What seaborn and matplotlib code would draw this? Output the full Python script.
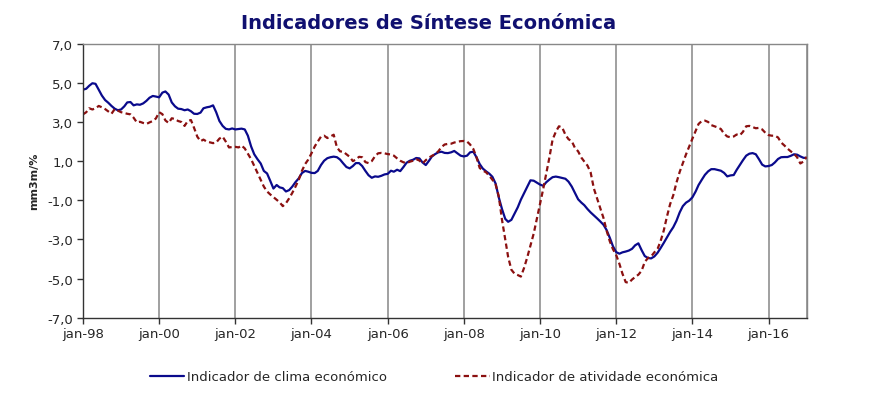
import numpy as np
import pandas as pd
import matplotlib
matplotlib.use("Agg")
import matplotlib.pyplot as plt
import matplotlib.dates as mdates
import seaborn as sns

# ---- data (monthly, Jan 1998 .. Jan 2017) ----
start_month = "1998-01-01"
clima = [
    4.65, 4.70, 4.85, 4.98, 4.95, 4.65, 4.35, 4.12, 3.98, 3.82,
    3.68, 3.60, 3.64, 3.80, 4.00, 4.02, 3.85, 3.90, 3.88, 3.95,
    4.08, 4.24, 4.33, 4.30, 4.26, 4.50, 4.56, 4.40, 4.00, 3.80,
    3.68, 3.66, 3.60, 3.64, 3.55, 3.42, 3.41, 3.48, 3.70, 3.75,
    3.78, 3.85, 3.50, 3.05, 2.80, 2.65, 2.62, 2.67, 2.62, 2.64,
    2.66, 2.62, 2.30, 1.75, 1.35, 1.10, 0.88, 0.50, 0.37, 0.00,
    -0.40, -0.22, -0.34, -0.38, -0.55, -0.48, -0.30, -0.07, 0.12, 0.39,
    0.50, 0.46, 0.40, 0.39, 0.50, 0.80, 1.02, 1.15, 1.20, 1.23,
    1.20, 1.08, 0.88, 0.70, 0.63, 0.75, 0.90, 0.90, 0.75, 0.50,
    0.28, 0.15, 0.22, 0.20, 0.25, 0.32, 0.35, 0.51, 0.46, 0.56,
    0.49, 0.70, 0.92, 1.02, 1.07, 1.16, 1.14, 0.93, 0.80, 1.02,
    1.24, 1.36, 1.45, 1.48, 1.42, 1.41, 1.45, 1.52, 1.40, 1.28,
    1.24, 1.28, 1.45, 1.48, 1.20, 0.85, 0.62, 0.48, 0.36, 0.20,
    -0.15, -0.85, -1.45, -1.95, -2.10, -2.00, -1.68, -1.36, -0.97, -0.63,
    -0.30, 0.02, 0.00, -0.10, -0.20, -0.26, -0.08, 0.06, 0.18, 0.21,
    0.18, 0.14, 0.10, -0.05, -0.30, -0.62, -0.95, -1.12, -1.25, -1.45,
    -1.62, -1.77, -1.92, -2.08, -2.25, -2.52, -2.92, -3.35, -3.65, -3.73,
    -3.66, -3.62, -3.57, -3.48, -3.30, -3.20, -3.55, -3.85, -3.95, -3.97,
    -3.87, -3.68, -3.45, -3.18, -2.90, -2.62, -2.38, -2.05, -1.62, -1.30,
    -1.12, -1.02, -0.85, -0.55, -0.22, 0.05, 0.30, 0.48, 0.59, 0.59,
    0.55, 0.51, 0.40, 0.22, 0.27, 0.29, 0.55, 0.80, 1.05, 1.28,
    1.38, 1.41, 1.35, 1.10, 0.82, 0.73, 0.75, 0.80, 0.93, 1.11,
    1.20, 1.21, 1.21, 1.27, 1.35, 1.33, 1.24, 1.17, 1.16,
]
atividade = [
    3.39, 3.50, 3.70, 3.64, 3.70, 3.82, 3.75, 3.66, 3.54, 3.42,
    3.66, 3.58, 3.50, 3.46, 3.42, 3.39, 3.22, 2.98, 3.01, 2.95,
    2.90, 2.98, 3.05, 3.18, 3.50, 3.40, 3.08, 2.95, 3.19, 3.15,
    3.05, 3.00, 2.80, 3.05, 3.10, 2.70, 2.25, 2.02, 2.10, 2.00,
    1.96, 1.92, 1.95, 2.15, 2.25, 2.00, 1.70, 1.72, 1.73, 1.70,
    1.80, 1.65, 1.38, 1.10, 0.75, 0.40, 0.05, -0.30, -0.55, -0.70,
    -0.84, -0.98, -1.10, -1.30, -1.15, -0.90, -0.62, -0.30, 0.05, 0.50,
    0.85, 1.08, 1.40, 1.75, 2.00, 2.25, 2.30, 2.18, 2.26, 2.35,
    1.70, 1.50, 1.48, 1.35, 1.22, 1.00, 1.08, 1.22, 1.20, 0.95,
    0.90, 1.00, 1.25, 1.40, 1.42, 1.40, 1.36, 1.34, 1.28, 1.14,
    1.02, 0.94, 0.90, 0.97, 1.02, 1.10, 1.03, 0.88, 1.05, 1.18,
    1.27, 1.35, 1.50, 1.72, 1.85, 1.88, 1.89, 1.95, 1.99, 2.02,
    2.03, 2.00, 1.85, 1.62, 1.20, 0.65, 0.52, 0.43, 0.25, 0.05,
    -0.20, -0.80, -2.00, -3.00, -3.90, -4.55, -4.75, -4.82, -4.90, -4.45,
    -3.90, -3.32, -2.70, -1.95, -1.15, -0.40, 0.35, 1.20, 2.10, 2.50,
    2.78, 2.72, 2.35, 2.12, 2.02, 1.68, 1.50, 1.18, 0.98, 0.77,
    0.42, -0.40, -0.90, -1.40, -1.90, -2.55, -3.10, -3.50, -3.80, -4.25,
    -4.75, -5.18, -5.22, -5.05, -4.92, -4.80, -4.60, -4.15, -3.95, -3.87,
    -3.66, -3.48, -3.10, -2.55, -1.85, -1.20, -0.75, -0.10, 0.45, 0.90,
    1.35, 1.75, 2.15, 2.55, 2.90, 3.05, 3.07, 3.00, 2.84, 2.78,
    2.72, 2.64, 2.40, 2.26, 2.22, 2.26, 2.36, 2.32, 2.50, 2.78,
    2.80, 2.74, 2.68, 2.70, 2.62, 2.45, 2.33, 2.30, 2.30, 2.21,
    1.95, 1.80, 1.64, 1.50, 1.38, 1.20, 0.88, 0.98, 1.22,
]
labels = ["Indicador de clima económico", "Indicador de atividade económica"]
y_ticks = [-7, -5, -3, -1, 1, 3, 5, 7]
x_tick_years = [1998, 2000, 2002, 2004, 2006, 2008, 2010, 2012, 2014, 2016]

dates = pd.date_range(start_month, periods=len(clima), freq="MS")
df = pd.DataFrame({"date": dates, labels[0]: clima, labels[1]: atividade[:len(clima)]})

sns.set_theme(style="white")
plt.rcParams["font.family"] = ["DejaVu Sans"]

fig = plt.figure(figsize=(8.86, 4.02), dpi=100)
ax = fig.add_axes([0.0937, 0.2072, 0.8168, 0.6816])

blue = "#0a0a8c"
red = "#8b1010"
sns.lineplot(data=df, x="date", y=labels[0], ax=ax, color=blue, lw=1.6, label=labels[0])
sns.lineplot(data=df, x="date", y=labels[1], ax=ax, color=red, lw=1.6,
             dashes=False, label=labels[1])
ax.lines[1].set_dashes([2.4, 1.5])

ax.set_xlim(pd.Timestamp("1998-01-01"), pd.Timestamp("2017-01-01"))
ax.set_ylim(-7, 7)
ax.set_yticks(y_ticks)
ax.set_yticklabels([f"{v:.1f}".replace(".", ",") for v in y_ticks], fontsize=9.5)
xt = [pd.Timestamp(f"{y}-01-01") for y in x_tick_years]
ax.set_xticks(xt)
ax.set_xticklabels([f"jan-{str(y)[2:]}" for y in x_tick_years], fontsize=9.5)
for t in xt[1:] + [pd.Timestamp("2017-01-01")]:
    ax.axvline(t, color="#a0a0a0", lw=1.4, zorder=0)

ax.tick_params(axis="both", which="major", length=4, width=1, color="#333333",
               direction="out", pad=3, bottom=True, left=True)
for s in ["left", "bottom"]:
    ax.spines[s].set_color("#333333")
    ax.spines[s].set_linewidth(1.0)
for s in ["top", "right"]:
    ax.spines[s].set_color("#888888")
    ax.spines[s].set_linewidth(1.0)

ax.set_xlabel("")
ax.set_ylabel("mm3m/%", fontsize=8, fontweight="bold", labelpad=6)
ax.grid(False)

ax.get_legend().remove()
handles, labs = ax.get_legend_handles_labels()
fig.legend(handles, labs, loc="center", bbox_to_anchor=(0.49, 0.06), ncol=2,
           frameon=False, fontsize=9.5, handlelength=2.6, handletextpad=0.2,
           columnspacing=5.2)

fig.suptitle("Indicadores de Síntese Económica", x=0.484, y=0.965,
             fontsize=14, fontweight="bold", color="#101070")

fig.savefig("out.png", dpi=100)
